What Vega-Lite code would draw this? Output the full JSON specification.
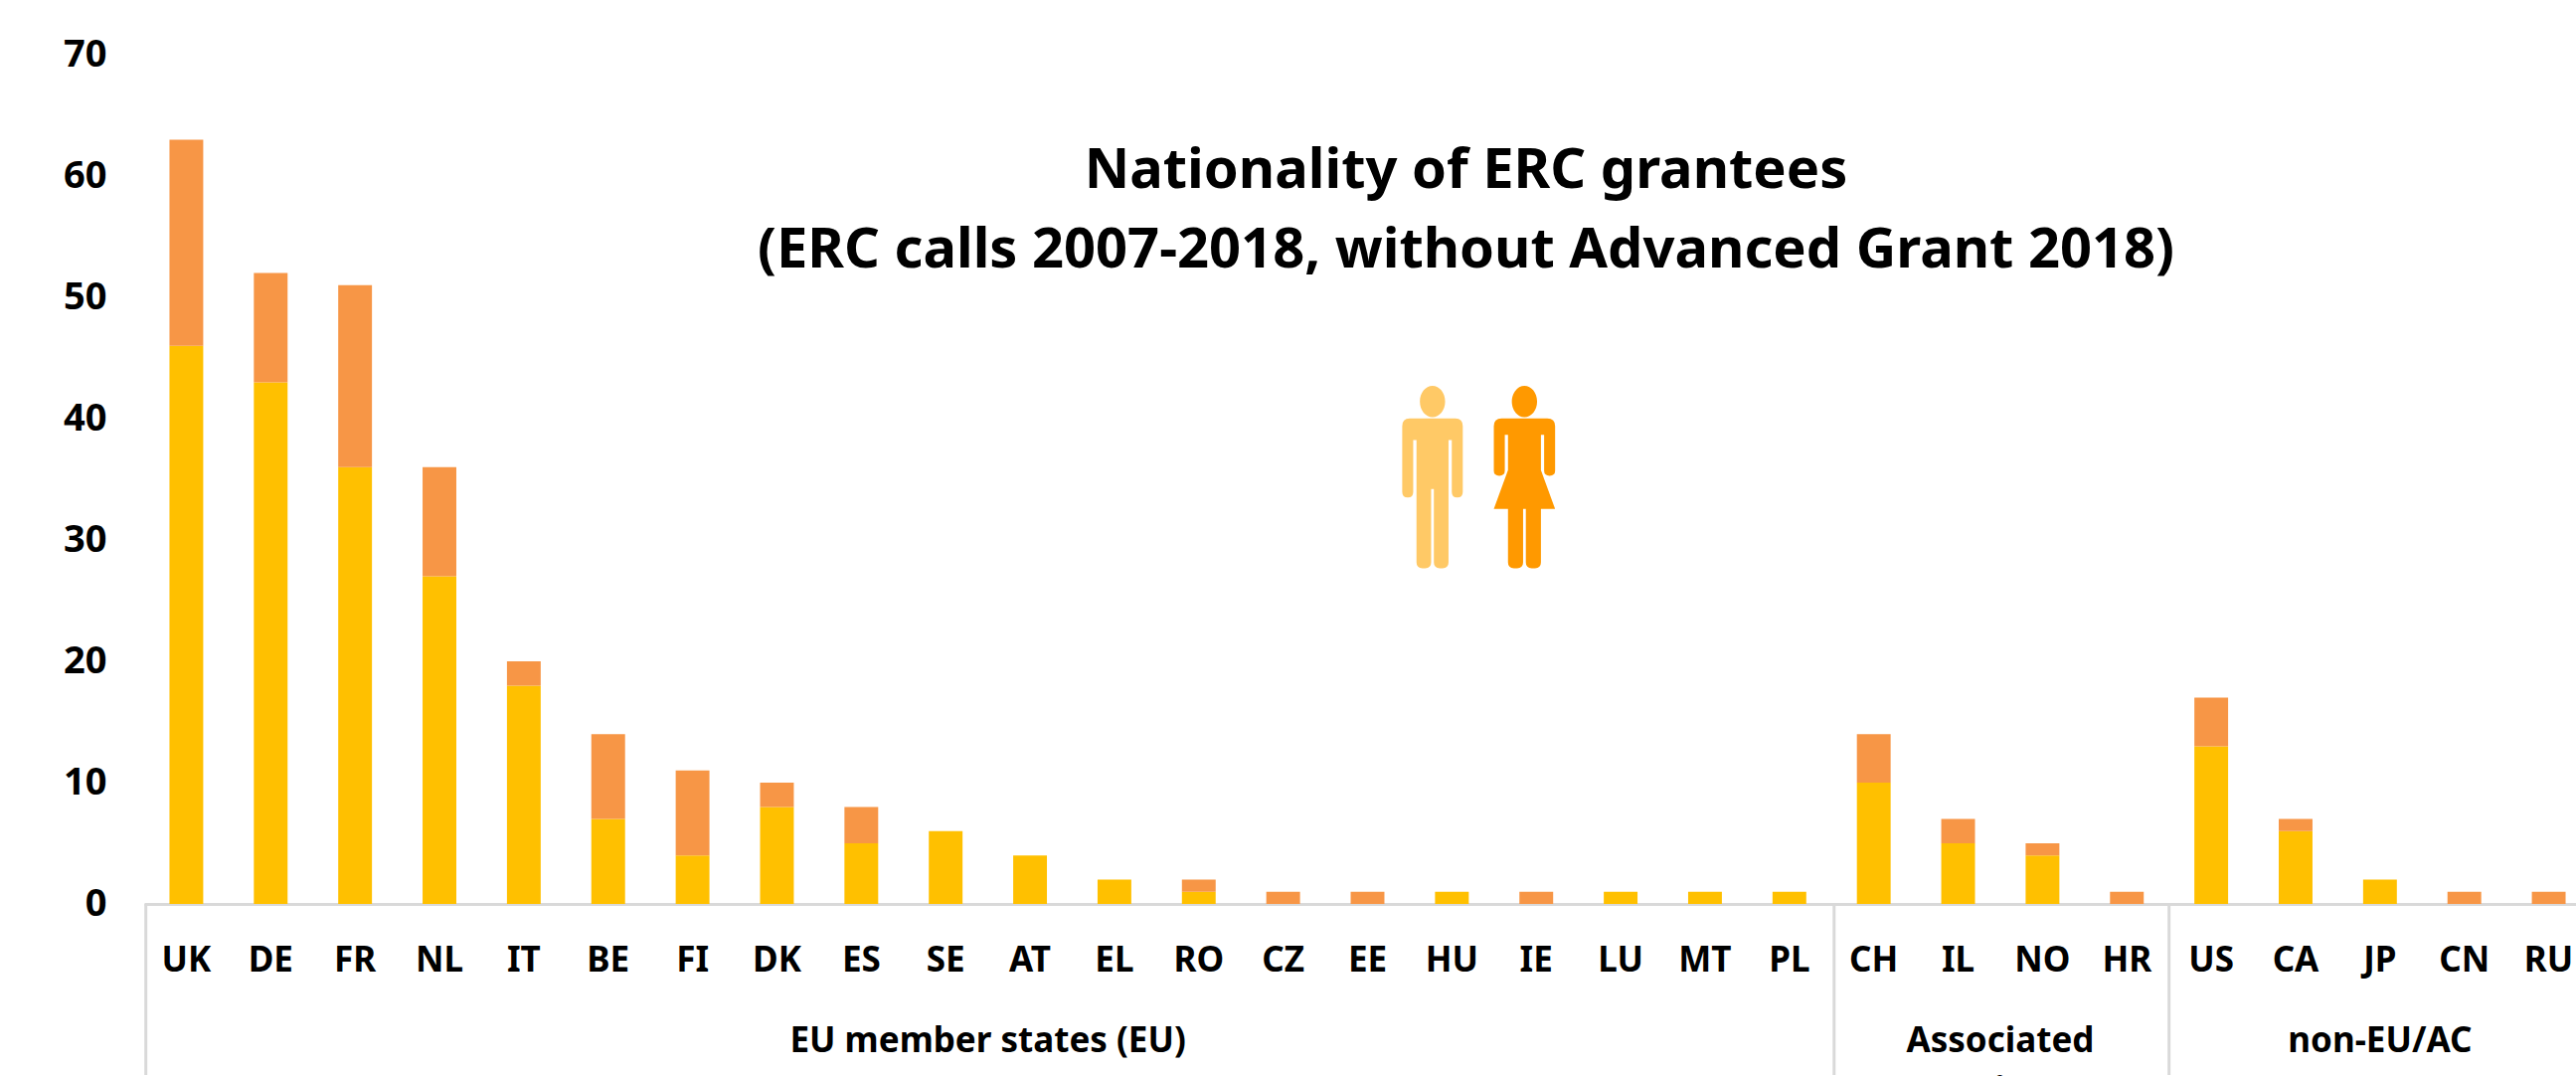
{"$schema":"https://vega.github.io/schema/vega-lite/v6.json","width":2461,"height":854,"autosize":"none","padding":{"left":145,"top":55,"right":0,"bottom":173},"background":"white","title":{"text":["Nationality of ERC grantees","(ERC calls 2007-2018, without Advanced Grant 2018)"],"font":"Noto Sans","fontSize":56,"fontWeight":"bold","color":"#000000","lineHeight":80,"anchor":"middle","frame":"group","baseline":"top","dx":99,"dy":249},"config":{"view":{"stroke":null}},"datasets":{"bars":[{"country":"UK","gender":"Men","count":46},{"country":"UK","gender":"Women","count":17},{"country":"DE","gender":"Men","count":43},{"country":"DE","gender":"Women","count":9},{"country":"FR","gender":"Men","count":36},{"country":"FR","gender":"Women","count":15},{"country":"NL","gender":"Men","count":27},{"country":"NL","gender":"Women","count":9},{"country":"IT","gender":"Men","count":18},{"country":"IT","gender":"Women","count":2},{"country":"BE","gender":"Men","count":7},{"country":"BE","gender":"Women","count":7},{"country":"FI","gender":"Men","count":4},{"country":"FI","gender":"Women","count":7},{"country":"DK","gender":"Men","count":8},{"country":"DK","gender":"Women","count":2},{"country":"ES","gender":"Men","count":5},{"country":"ES","gender":"Women","count":3},{"country":"SE","gender":"Men","count":6},{"country":"SE","gender":"Women","count":0},{"country":"AT","gender":"Men","count":4},{"country":"AT","gender":"Women","count":0},{"country":"EL","gender":"Men","count":2},{"country":"EL","gender":"Women","count":0},{"country":"RO","gender":"Men","count":1},{"country":"RO","gender":"Women","count":1},{"country":"CZ","gender":"Men","count":0},{"country":"CZ","gender":"Women","count":1},{"country":"EE","gender":"Men","count":0},{"country":"EE","gender":"Women","count":1},{"country":"HU","gender":"Men","count":1},{"country":"HU","gender":"Women","count":0},{"country":"IE","gender":"Men","count":0},{"country":"IE","gender":"Women","count":1},{"country":"LU","gender":"Men","count":1},{"country":"LU","gender":"Women","count":0},{"country":"MT","gender":"Men","count":1},{"country":"MT","gender":"Women","count":0},{"country":"PL","gender":"Men","count":1},{"country":"PL","gender":"Women","count":0},{"country":"CH","gender":"Men","count":10},{"country":"CH","gender":"Women","count":4},{"country":"IL","gender":"Men","count":5},{"country":"IL","gender":"Women","count":2},{"country":"NO","gender":"Men","count":4},{"country":"NO","gender":"Women","count":1},{"country":"HR","gender":"Men","count":0},{"country":"HR","gender":"Women","count":1},{"country":"US","gender":"Men","count":13},{"country":"US","gender":"Women","count":4},{"country":"CA","gender":"Men","count":6},{"country":"CA","gender":"Women","count":1},{"country":"JP","gender":"Men","count":2},{"country":"JP","gender":"Women","count":0},{"country":"CN","gender":"Men","count":0},{"country":"CN","gender":"Women","count":1},{"country":"RU","gender":"Men","count":0},{"country":"RU","gender":"Women","count":1}],"separators":[{"at":0.02,"from":0,"to":-14.1},{"at":20.03,"from":0,"to":-14.1},{"at":24,"from":0,"to":-14.1}],"groups":[{"label":"EU member states (EU)","at":10,"level":-11.3},{"label":"Associated","at":22,"level":-11.3},{"label":"countries (AC)","at":22,"level":-15.4},{"label":"non-EU/AC","at":26.5,"level":-11.3}],"icons":[{"gender":"Men","at":15.27,"level":35.16},{"gender":"Women","at":16.36,"level":35.16}]},"layer":[{"data":{"name":"bars"},"mark":{"type":"bar"},"encoding":{"x":{"field":"country","type":"nominal","sort":null,"scale":{"paddingInner":0.6,"paddingOuter":0.3},"axis":{"title":null,"labelAngle":0,"labelFont":"Noto Sans","labelFontWeight":"bold","labelFontSize":35,"labelColor":"#000000","labelBaseline":"middle","labelPadding":56,"ticks":false,"domainColor":"#d9d9d9","domainWidth":3,"grid":false}},"y":{"field":"count","type":"quantitative","stack":"zero","scale":{"domain":[0,70],"nice":false},"axis":{"title":null,"values":[0,10,20,30,40,50,60,70],"grid":false,"ticks":false,"domain":false,"labelFont":"Noto Sans","labelFontWeight":"bold","labelFontSize":38,"labelColor":"#000000","labelPadding":38,"labelBaseline":"middle","labelOffset":0}},"color":{"field":"gender","type":"nominal","scale":{"domain":["Men","Women"],"range":["#FFC000","#F79646"]},"legend":null},"order":{"field":"gender","sort":"ascending"}}},{"data":{"name":"separators"},"mark":{"type":"rule","color":"#d9d9d9","strokeWidth":3},"encoding":{"x":{"field":"at","type":"quantitative","scale":{"domain":[0,29],"nice":false,"zero":false},"axis":null},"y":{"field":"from","type":"quantitative"},"y2":{"field":"to"}}},{"data":{"name":"groups"},"mark":{"type":"text","font":"Noto Sans","fontWeight":"bold","fontSize":35,"color":"#000000","align":"center","baseline":"middle"},"encoding":{"x":{"field":"at","type":"quantitative","scale":{"domain":[0,29],"nice":false,"zero":false},"axis":null},"y":{"field":"level","type":"quantitative"},"text":{"field":"label"}}},{"data":{"name":"icons"},"mark":{"type":"point","filled":true,"opacity":1,"size":33856},"encoding":{"x":{"field":"at","type":"quantitative","scale":{"domain":[0,29],"nice":false,"zero":false},"axis":null},"y":{"field":"level","type":"quantitative"},"shape":{"field":"gender","type":"nominal","legend":null,"scale":{"domain":["Men","Women"],"range":["M-.138,-.829 A.138,.171 0 1,1 .138,-.829 A.138,.171 0 1,1 -.138,-.829 Z M-.25,-.644 L.25,-.644 Q.331,-.644 .331,-.56 L.331,.16 Q.331,.22 .27,.22 Q.211,.22 .211,.16 L.211,-.407 L.175,-.407 L.175,.93 Q.175,.993 .11,.993 L.08,.993 Q.015,.993 .015,.93 L.015,.127 L-.015,.127 L-.015,.93 Q-.015,.993 -.08,.993 L-.11,.993 Q-.175,.993 -.175,.93 L-.175,-.407 L-.211,-.407 L-.211,.16 Q-.211,.22 -.27,.22 Q-.331,.22 -.331,.16 L-.331,-.56 Q-.331,-.644 -.25,-.644 Z","M-.138,-.829 A.138,.171 0 1,1 .138,-.829 A.138,.171 0 1,1 -.138,-.829 Z M-.25,-.644 L.25,-.644 Q.335,-.644 .335,-.56 L.335,-.07 Q.335,-.018 .275,-.018 Q.215,-.018 .215,-.07 L.215,-.465 L.18,-.465 L.18,-.08 L.335,.345 L.18,.345 L.18,.93 Q.18,.993 .115,.993 L.08,.993 Q.015,.993 .015,.93 L.015,.345 L-.015,.345 L-.015,.93 Q-.015,.993 -.08,.993 L-.115,.993 Q-.18,.993 -.18,.93 L-.18,.345 L-.335,.345 L-.18,-.08 L-.18,-.465 L-.215,-.465 L-.215,-.07 Q-.215,-.018 -.275,-.018 Q-.335,-.018 -.335,-.07 L-.335,-.56 Q-.335,-.644 -.25,-.644 Z"]}},"fill":{"field":"gender","type":"nominal","legend":null,"scale":{"domain":["Men","Women"],"range":["#FFC966","#FF9900"]}},"stroke":{"value":null}}}],"resolve":{"scale":{"x":"independent","fill":"independent","color":"independent"}}}
